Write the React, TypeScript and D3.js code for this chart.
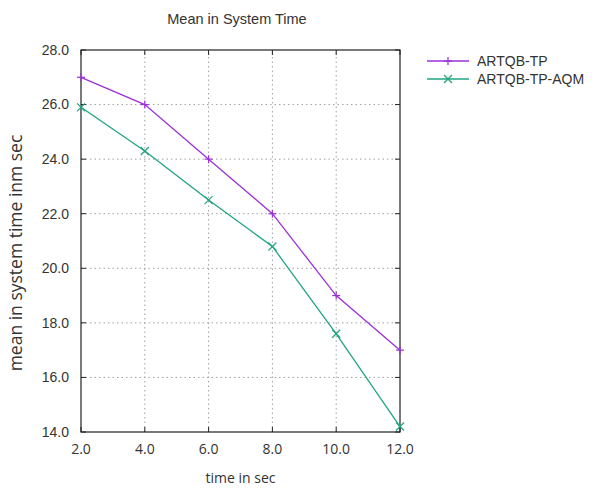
import * as d3 from "d3";
import { useEffect, useRef } from "react";

const times = [2, 4, 6, 8, 10, 12];
const artqbTP = [27.0, 26.0, 24.0, 22.0, 19.0, 17.0];
const artqbTPAQM = [25.9, 24.3, 22.5, 20.8, 17.6, 14.2];
const seriesNames = ["ARTQB-TP", "ARTQB-TP-AQM"];
const seriesColors = ["#9b30d9", "#1fa583"];
const yTicks = [14, 16, 18, 20, 22, 24, 26, 28];

export default function App() {
  const ref = useRef<SVGSVGElement>(null);

  const width = 592;
  const height = 491;
  const margin = { left: 81, top: 50, right: 192, bottom: 59 };

  useEffect(() => {
    const svg = d3.select(ref.current);
    svg.selectAll("*").remove();

    const x = d3.scaleLinear().domain([2, 12]).range([margin.left, width - margin.right]);
    const y = d3.scaleLinear().domain([14, 28]).range([height - margin.bottom, margin.top]);
    const [x0, x1] = x.range();
    const [y0, y1] = y.range();

    // grid
    const grid = svg.append("g").attr("stroke", "#a0a0a0").attr("stroke-dasharray", "1.5,3").attr("stroke-width", 1);
    times.slice(1, -1).forEach(t => {
      grid.append("line").attr("x1", x(t)).attr("x2", x(t)).attr("y1", y0).attr("y2", y1);
    });
    yTicks.slice(1, -1).forEach(v => {
      grid.append("line").attr("x1", x0).attr("x2", x1).attr("y1", y(v)).attr("y2", y(v));
    });

    // ticks (inward, mirrored)
    const ticks = svg.append("g").attr("stroke", "#222").attr("stroke-width", 1);
    times.forEach(t => {
      ticks.append("line").attr("x1", x(t)).attr("x2", x(t)).attr("y1", y0).attr("y2", y0 - 5);
      ticks.append("line").attr("x1", x(t)).attr("x2", x(t)).attr("y1", y1).attr("y2", y1 + 5);
    });
    yTicks.forEach(v => {
      ticks.append("line").attr("x1", x0).attr("x2", x0 + 5).attr("y1", y(v)).attr("y2", y(v));
      ticks.append("line").attr("x1", x1).attr("x2", x1 - 5).attr("y1", y(v)).attr("y2", y(v));
    });

    // border
    svg.append("rect")
      .attr("x", x0).attr("y", y1)
      .attr("width", x1 - x0).attr("height", y0 - y1)
      .attr("fill", "none").attr("stroke", "#222").attr("stroke-width", 1.2);

    // tick labels
    svg.append("g")
      .attr("font-family", "'Open Sans', sans-serif").attr("font-size", 14).attr("fill", "#333")
      .attr("text-anchor", "middle")
      .selectAll("text").data(times).join("text")
      .attr("x", d => x(d)).attr("y", y0 + 22)
      .text(d => d.toFixed(1));

    svg.append("g")
      .attr("font-family", "'Liberation Sans', Arial, sans-serif").attr("font-size", 14).attr("fill", "#333")
      .attr("text-anchor", "end")
      .selectAll("text").data(yTicks).join("text")
      .attr("x", x0 - 12).attr("y", d => y(d)).attr("dy", "0.35em")
      .text(d => d.toFixed(1));

    // lines
    const data = [artqbTP, artqbTPAQM];
    const line = d3.line<number>().x((_, i) => x(times[i])).y(d => y(d));
    data.forEach((vals, si) => {
      svg.append("path").attr("d", line(vals)).attr("fill", "none")
        .attr("stroke", seriesColors[si]).attr("stroke-width", 1.3);
      const g = svg.append("g").attr("stroke", seriesColors[si]).attr("stroke-width", 1.2);
      vals.forEach((v, i) => marker(g, si, x(times[i]), y(v)));
    });

    function marker(g: any, si: number, cx: number, cy: number) {
      const s = 4;
      if (si === 0) {
        g.append("line").attr("x1", cx - s).attr("x2", cx + s).attr("y1", cy).attr("y2", cy);
        g.append("line").attr("x1", cx).attr("x2", cx).attr("y1", cy - s).attr("y2", cy + s);
      } else {
        g.append("line").attr("x1", cx - s).attr("x2", cx + s).attr("y1", cy - s).attr("y2", cy + s);
        g.append("line").attr("x1", cx - s).attr("x2", cx + s).attr("y1", cy + s).attr("y2", cy - s);
      }
    }

    // legend
    seriesNames.forEach((name, si) => {
      const ly = 61 + si * 18;
      svg.append("line").attr("x1", 427).attr("x2", 469).attr("y1", ly).attr("y2", ly)
        .attr("stroke", seriesColors[si]).attr("stroke-width", 1.3);
      const g = svg.append("g").attr("stroke", seriesColors[si]).attr("stroke-width", 1.2);
      marker(g, si, 448, ly);
      svg.append("text").attr("x", 477).attr("y", ly).attr("dy", "0.35em")
        .attr("font-family", "'Liberation Sans', Arial, sans-serif").attr("font-size", 14).attr("fill", "#333")
        .text(name);
    });

    // title and axis labels
    svg.append("text").attr("x", 237).attr("y", 24).attr("text-anchor", "middle")
      .attr("font-family", "'Liberation Sans', Arial, sans-serif").attr("font-size", 14.5).attr("fill", "#333")
      .text("Mean in System Time");

    svg.append("text").attr("x", (x0 + x1) / 2).attr("y", 483).attr("text-anchor", "middle")
      .attr("font-family", "'Open Sans', sans-serif").attr("font-size", 14).attr("fill", "#333")
      .text("time in sec");

    svg.append("text")
      .attr("transform", `translate(22,253) rotate(-90)`)
      .attr("text-anchor", "middle")
      .attr("font-family", "'Open Sans', sans-serif").attr("font-size", 17.5).attr("fill", "#333")
      .text("mean in system time inm sec");
  }, []);

  return (
    <svg ref={ref} width={width} height={height}
      style={{ position: "absolute", left: 0, top: 0, background: "white" }} />
  );
}
